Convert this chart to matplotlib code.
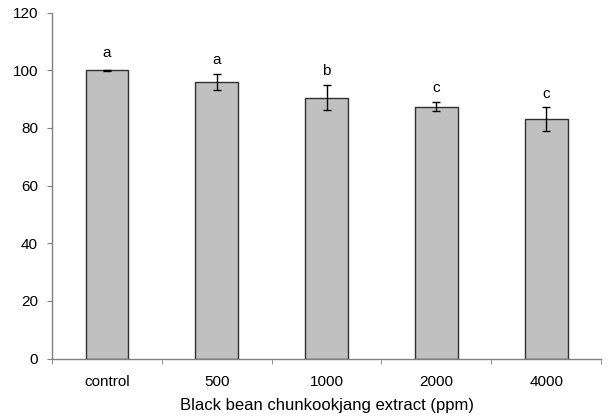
import matplotlib
matplotlib.use('Agg')
import matplotlib.pyplot as plt
import numpy as np

plt.rcParams['font.family'] = ['Liberation Sans', 'DejaVu Sans']

# --- data ---
categories = ['control', '500', '1000', '2000', '4000']
values = [100.0, 95.9, 90.5, 87.4, 83.1]
errors = [0.2, 2.8, 4.3, 1.5, 4.0]
letters = ['a', 'a', 'b', 'c', 'c']

fig = plt.figure(figsize=(6.09, 4.20), dpi=100)
ax = fig.add_axes([0.0854, 0.146, 0.987 - 0.0854, 0.970 - 0.146])

x = np.arange(len(categories))
ax.bar(x, values, width=0.39, color='#c0c0c0', edgecolor='#303030', linewidth=1.0, zorder=2)
ax.errorbar(x, values, yerr=errors, fmt='none', ecolor='black', elinewidth=1.0,
            capsize=2.7, capthick=1.0, zorder=3)

# significance letters above the error bars
for xi, v, e, lab in zip(x, values, errors, letters):
    off = 10 if e > 0.5 else 12
    ax.annotate(lab, (xi, v + e), xytext=(0, off), textcoords='offset points',
                ha='center', va='center', fontsize=11)

ax.set_xlim(-0.5, len(categories) - 0.5)
ax.set_ylim(0, 120)
ax.set_yticks(np.arange(0, 121, 20))

ax.set_xticks(x)
ax.set_xticklabels(categories)
ax.set_xticks(np.arange(-0.5, len(categories), 1.0), minor=True)
ax.tick_params(axis='x', which='major', length=0, pad=11.5, labelsize=11)
ax.tick_params(axis='x', which='minor', length=3.5, color='#808080', direction='out')
ax.tick_params(axis='y', length=3.5, color='#808080', direction='out', labelsize=11, pad=6.5)

for side in ['top', 'right']:
    ax.spines[side].set_visible(False)
for side in ['left', 'bottom']:
    ax.spines[side].set_color('#808080')
    ax.spines[side].set_linewidth(1.0)

ax.set_xlabel('Black bean chunkookjang extract (ppm)', fontsize=12, labelpad=7)

fig.savefig('out.png', dpi=100)
